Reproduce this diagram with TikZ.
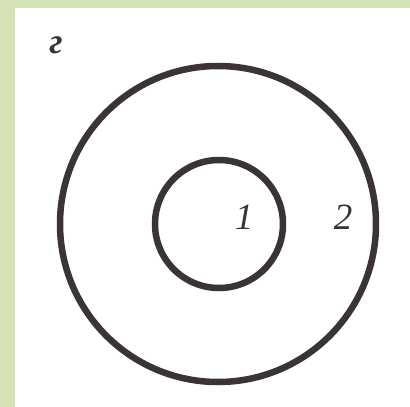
\documentclass[tikz,border=0pt]{standalone}
\usepackage{fontspec}
\setmainfont{Liberation Serif}
\begin{document}
\begin{tikzpicture}[x=1pt,y=-1pt,
  ring/.style={draw=inkc, line width=6.5pt},
  lbl/.style={font=\fontsize{37}{40}\selectfont\itshape, text=inkc, inner sep=0pt}]
\definecolor{inkc}{HTML}{3A3532}
\definecolor{frame}{HTML}{D5E2B6}
\useasboundingbox (0,0) rectangle (410,407);
\fill[frame] (0,0) rectangle (410,407);
\fill[white] (15,8) rectangle (410,407);
\node[ring, circle, minimum size=316pt, inner sep=0pt] (outer) at (218,224) {};
\node[ring, circle, minimum size=128pt, inner sep=0pt] (inner) at (219,224) {};
\node[lbl] (one) at (244,217) {1};
\node[lbl] (two) at (343,217) {2};
\node[lbl, anchor=base, font=\fontsize{36}{40}\selectfont\bfseries\itshape] (g) at (56,53) {г};
\end{tikzpicture}
\end{document}
